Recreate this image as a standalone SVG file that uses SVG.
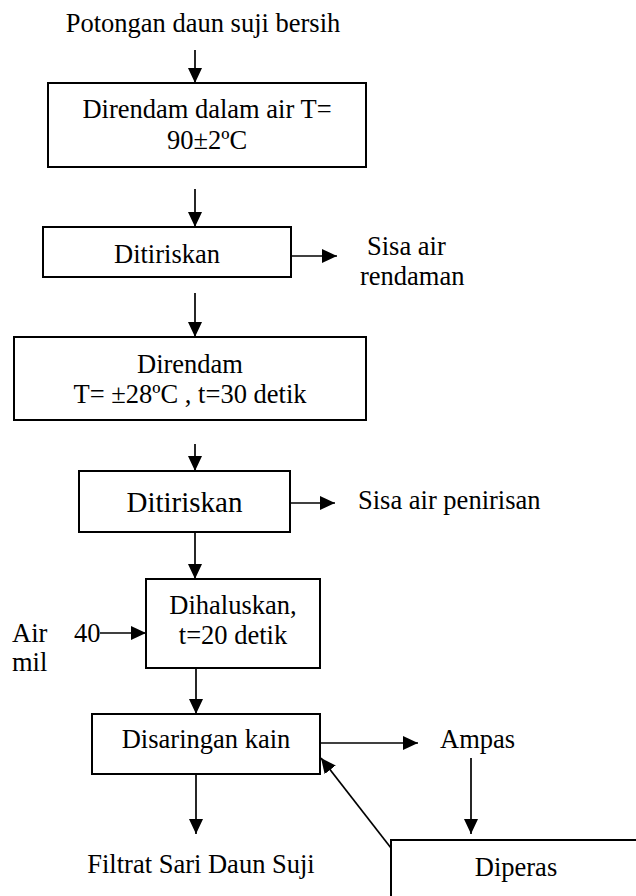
<svg xmlns="http://www.w3.org/2000/svg" width="636" height="896" viewBox="0 0 636 896">
<style>
  text { font-family: "Liberation Serif", "Times New Roman", serif; font-size: 26.5px; fill: #000; }
  .c { text-anchor: middle; }
  .box { fill: #fff; stroke: #000; stroke-width: 2; }
  .ln { stroke: #000; stroke-width: 1.7; fill: none; marker-end: url(#ah); }
</style>
<defs>
  <marker id="ah" markerUnits="userSpaceOnUse" markerWidth="15" markerHeight="14" refX="15" refY="7" orient="auto">
    <path d="M0,0 L15,7 L0,14 z" fill="#000"/>
  </marker>
</defs>
<rect width="636" height="896" fill="#fff"/>
<g id="start"><text class="c" x="203" y="32">Potongan daun suji bersih</text></g>
<g id="n1"><rect class="box" x="48" y="83" width="318" height="84"/><text class="c" x="207" y="118">Direndam dalam air T=</text><text class="c" x="207" y="149">90±2ºC</text></g>
<g id="n2"><rect class="box" x="43" y="227" width="248" height="50"/><text class="c" x="167" y="263">Ditiriskan</text></g>
<g id="o2"><text x="367" y="255">Sisa air</text><text x="360" y="285">rendaman</text></g>
<g id="n3"><rect class="box" x="14" y="337" width="352" height="83"/><text class="c" x="190" y="373">Direndam</text><text class="c" x="190" y="403">T= ±28ºC , t=30 detik</text></g>
<g id="n4"><rect class="box" x="79" y="471" width="211" height="61"/><text class="c" x="184.5" y="512" style="font-size:29px">Ditiriskan</text></g>
<g id="o4"><text x="358" y="509">Sisa air penirisan</text></g>
<g id="in5"><text x="12" y="642">Air</text><text x="12" y="671">mil</text><text x="74" y="642">40</text></g>
<g id="n5"><rect class="box" x="146" y="579" width="174" height="89"/><text class="c" x="233" y="614">Dihaluskan,</text><text class="c" x="233" y="644">t=20 detik</text></g>
<g id="n6"><rect class="box" x="92" y="714" width="228" height="60"/><text class="c" x="206" y="748">Disaringan kain</text></g>
<g id="ampas"><text x="440" y="748">Ampas</text></g>
<g id="n7"><rect class="box" x="391" y="840" width="252" height="70"/><text class="c" x="516" y="876">Diperas</text></g>
<g id="end"><text class="c" x="201" y="873">Filtrat Sari Daun Suji</text></g>
<g id="connectors">
  <line class="ln" x1="195" y1="50" x2="195" y2="83"/>
  <line class="ln" x1="195" y1="189" x2="195" y2="227"/>
  <line class="ln" x1="291" y1="256" x2="337" y2="256"/>
  <line class="ln" x1="195" y1="293" x2="195" y2="337"/>
  <line class="ln" x1="195" y1="444" x2="195" y2="471"/>
  <line class="ln" x1="290" y1="503" x2="335" y2="503"/>
  <line class="ln" x1="195" y1="532" x2="195" y2="579"/>
  <line class="ln" x1="100" y1="633" x2="146" y2="633"/>
  <line class="ln" x1="196" y1="668" x2="196" y2="714"/>
  <line class="ln" x1="320" y1="743" x2="418" y2="743"/>
  <line class="ln" x1="471" y1="758" x2="471" y2="834"/>
  <line class="ln" x1="391" y1="848" x2="321" y2="758"/>
  <line class="ln" x1="196" y1="774" x2="196" y2="834"/>
</g>
</svg>
